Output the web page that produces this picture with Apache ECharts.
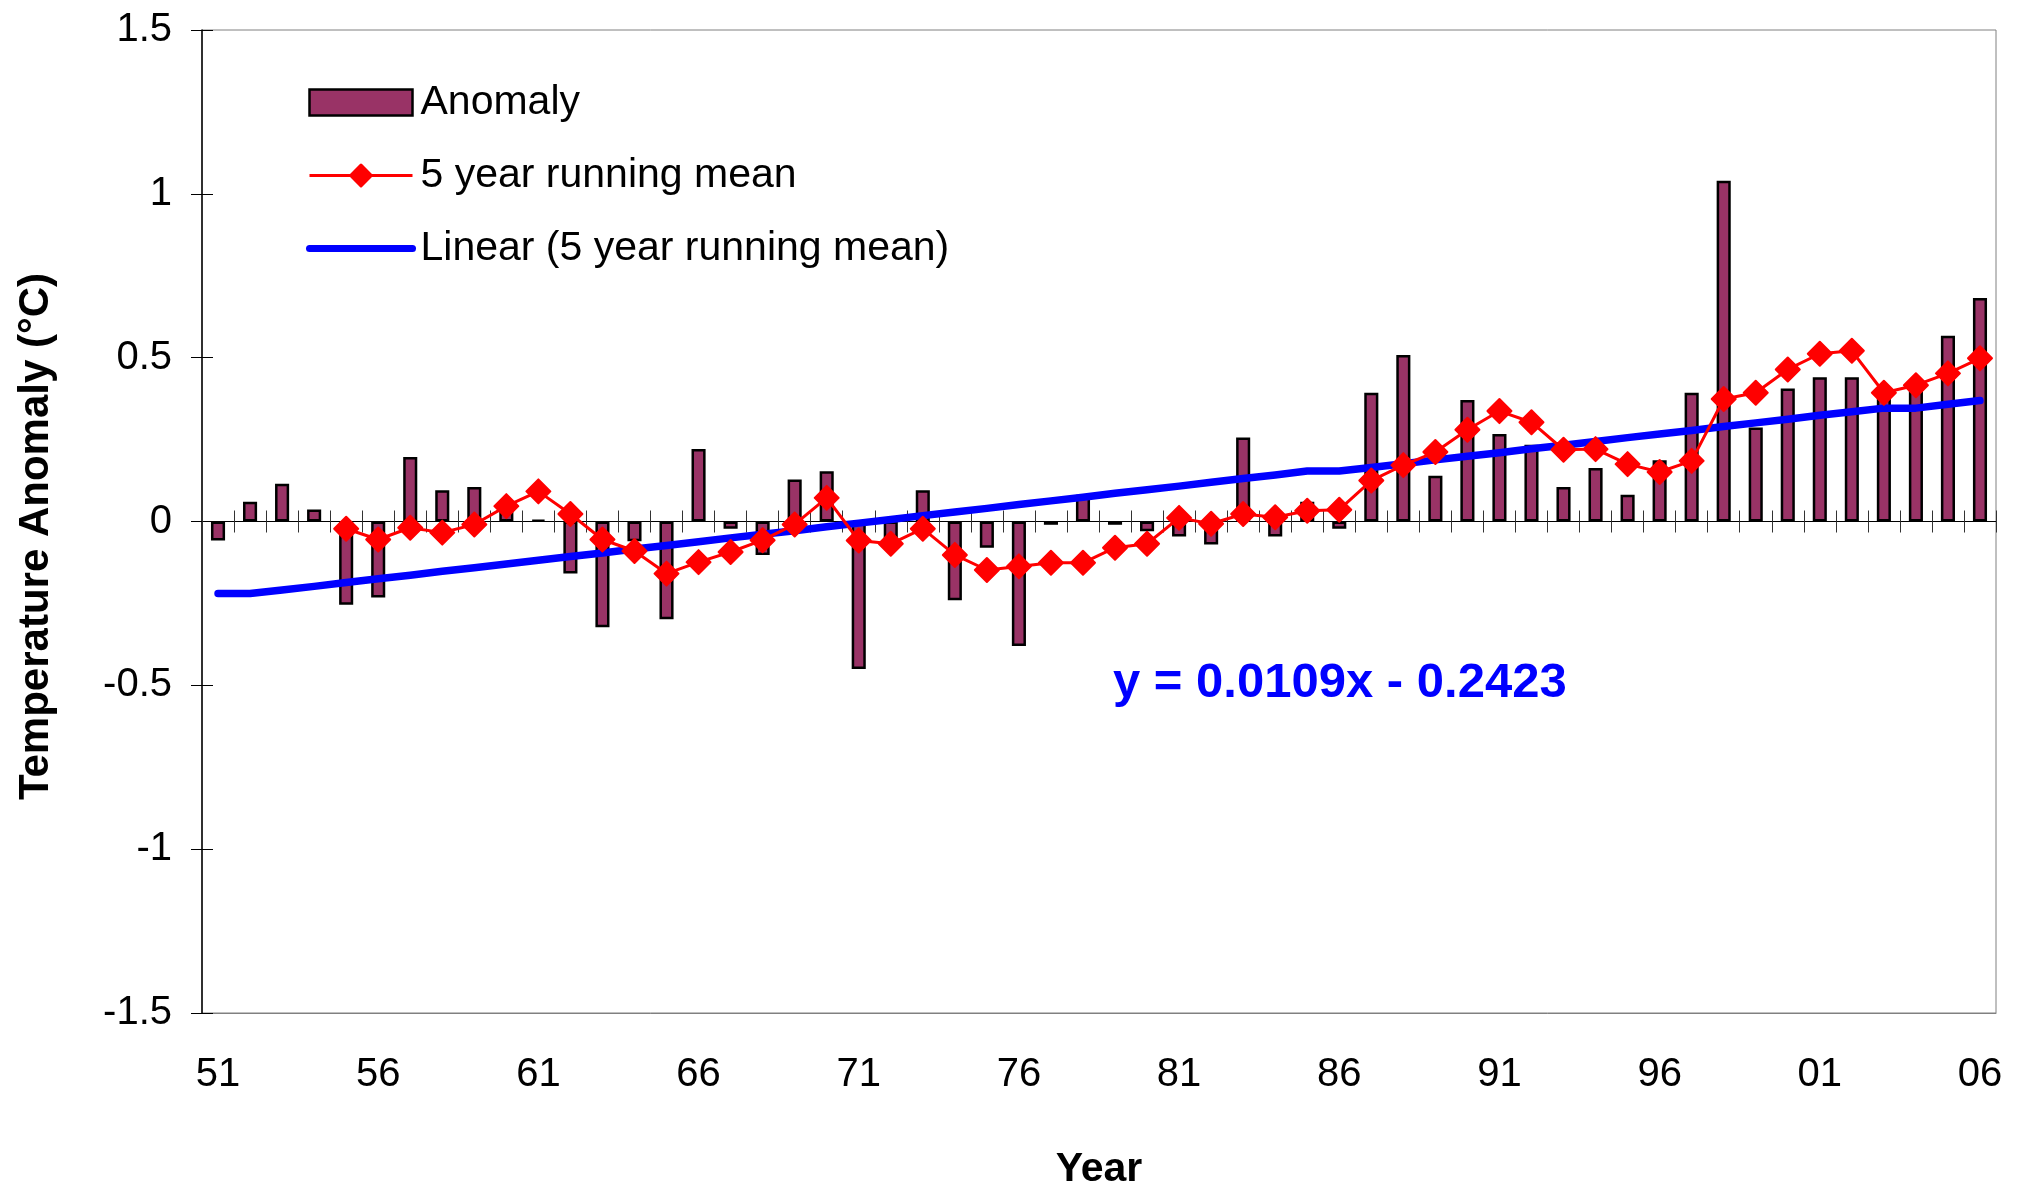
<!DOCTYPE html>
<html>
<head>
<meta charset="utf-8">
<script src="https://cdn.jsdelivr.net/npm/echarts@6/dist/echarts.min.js"></script>
<style>
html,body{margin:0;padding:0;background:#fff;}
#chart{width:2018px;height:1187px;}
</style>
</head>
<body>
<div id="chart"></div>
<script>
// Category labels (years 1951-2006, two-digit)
const years = ['51','52','53','54','55','56','57','58','59','60',
               '61','62','63','64','65','66','67','68','69','70',
               '71','72','73','74','75','76','77','78','79','80',
               '81','82','83','84','85','86','87','88','89','90',
               '91','92','93','94','95','96','97','98','99','00',
               '01','02','03','04','05','06'];

// Annual temperature anomaly (°C)
const anomaly = [-0.058, 0.060, 0.115, 0.037, -0.254, -0.232, 0.197, 0.095, 0.105, 0.060,
                  0.005, -0.159, -0.323, -0.060, -0.298, 0.221, -0.022, -0.102, 0.128, 0.153,
                 -0.450, -0.065, 0.095, -0.240, -0.080, -0.380, -0.010, 0.082, -0.010, -0.030,
                 -0.046, -0.070, 0.256, -0.046, 0.060, -0.022, 0.393, 0.508, 0.140, 0.371,
                  0.267, 0.234, 0.105, 0.163, 0.082, 0.187, 0.393, 1.040, 0.287, 0.406,
                  0.440, 0.440, 0.390, 0.400, 0.567, 0.682];

// 5 year running mean (starts 1955)
const runningMean = [null, null, null, null, -0.022, -0.055, -0.019, -0.034, -0.009, 0.047,
                     0.092, 0.023, -0.055, -0.090, -0.159, -0.124, -0.093, -0.057, -0.009, 0.072,
                    -0.058, -0.068, -0.022, -0.102, -0.148, -0.137, -0.126, -0.126, -0.080, -0.068,
                     0.011, -0.007, 0.023, 0.013, 0.033, 0.036, 0.125, 0.172, 0.212, 0.280,
                     0.337, 0.303, 0.219, 0.221, 0.175, 0.151, 0.185, 0.374, 0.393, 0.464,
                     0.512, 0.521, 0.393, 0.416, 0.452, 0.498];

// Linear trend of the running mean, as drawn
const trend = [-0.220, -0.220, -0.209, -0.198, -0.186, -0.175, -0.164, -0.152, -0.141, -0.130,
               -0.118, -0.107, -0.096, -0.084, -0.073, -0.062, -0.050, -0.039, -0.028, -0.016,
               -0.005, 0.006, 0.018, 0.029, 0.040, 0.052, 0.063, 0.074, 0.086, 0.097,
                0.108, 0.120, 0.131, 0.142, 0.154, 0.154, 0.165, 0.176, 0.188, 0.199,
                0.210, 0.222, 0.233, 0.244, 0.256, 0.267, 0.278, 0.290, 0.301, 0.312,
                0.324, 0.335, 0.346, 0.346, 0.358, 0.369];

// Y axis tick values
const yTicks = [-1.5, -1, -0.5, 0, 0.5, 1, 1.5];

const equationText = 'y = 0.0109x - 0.2423';
const seriesNames = ['Anomaly', '5 year running mean', 'Linear (5 year running mean)'];

const FONT = '"Liberation Sans", Arial, Helvetica, sans-serif';
const chart = echarts.init(document.getElementById('chart'), null, {renderer: 'canvas'});

const yMin = yTicks[0], yMax = yTicks[yTicks.length - 1], yStep = yTicks[1] - yTicks[0];

chart.setOption({
  animation: false,
  backgroundColor: '#ffffff',
  textStyle: {fontFamily: FONT},
  grid: {
    left: 202, top: 30, width: 1794, height: 983,
    containLabel: false, outerBoundsMode: 'none',
    show: true, borderColor: '#808080', borderWidth: 1, backgroundColor: 'transparent'
  },
  legend: {
    orient: 'vertical', left: 301, top: 77, padding: 5,
    itemWidth: 103, itemHeight: 26, itemGap: 32,
    selectedMode: false,
    textStyle: {fontSize: 41, color: '#000', fontFamily: FONT, lineHeight: 40, padding: [0, 0, 0, 3]},
    data: [
      {name: seriesNames[0], icon: 'rect', itemStyle: {color: '#993366', borderColor: '#000', borderWidth: 2.5}},
      {name: seriesNames[1], lineStyle: {color: '#ff0000', width: 3}, itemStyle: {color: '#ff0000', borderColor: '#ff0000', borderWidth: 3}},
      {name: seriesNames[2], lineStyle: {color: '#0000ff', width: 7, cap: 'round'}, itemStyle: {opacity: 0}}
    ]
  },
  xAxis: [
    {
      type: 'category', data: years, position: 'bottom',
      axisLine: {show: true, onZero: false, lineStyle: {color: '#808080', width: 1}},
      axisTick: {show: false},
      axisLabel: {interval: 4, fontSize: 40, color: '#000', margin: 42, fontFamily: FONT},
      splitLine: {show: false},
      name: 'Year', nameLocation: 'middle', nameGap: 136,
      nameTextStyle: {fontSize: 41, fontWeight: 'bold', color: '#000', fontFamily: FONT}
    },
    {
      type: 'category', data: years, position: 'bottom',
      axisLine: {show: true, onZero: true, onZeroAxisIndex: 0, lineStyle: {color: '#000', width: 1}},
      axisTick: {show: true, interval: 0, length: 11, lineStyle: {color: '#333', width: 1}},
      axisLabel: {show: false}, splitLine: {show: false}
    },
    {
      type: 'category', data: years, position: 'bottom',
      axisLine: {show: true, onZero: true, onZeroAxisIndex: 0, lineStyle: {color: '#000', width: 1}},
      axisTick: {show: true, inside: true, interval: 0, length: 11, lineStyle: {color: '#333', width: 1}},
      axisLabel: {show: false}, splitLine: {show: false}
    }
  ],
  yAxis: [
    {
      type: 'value', min: yMin, max: yMax, interval: yStep, position: 'left',
      axisLine: {show: true, lineStyle: {color: '#000', width: 1.5}},
      axisTick: {show: true, length: 11, lineStyle: {color: '#000', width: 1}},
      axisLabel: {fontSize: 40, color: '#000', margin: 30, fontFamily: FONT},
      splitLine: {show: false},
      name: 'Temperature Anomaly (°C)', nameLocation: 'middle', nameGap: 145,
      nameTextStyle: {fontSize: 42, fontWeight: 'bold', color: '#000', fontFamily: FONT, padding: [0, 30, 0, 0]}
    },
    {
      type: 'value', min: yMin, max: yMax, interval: yStep, position: 'left',
      axisLine: {show: false},
      axisTick: {show: true, inside: true, length: 11, lineStyle: {color: '#000', width: 1}},
      axisLabel: {show: false}, splitLine: {show: false}
    }
  ],
  series: [
    {
      name: seriesNames[0], type: 'bar', data: anomaly, xAxisIndex: 0, yAxisIndex: 0,
      barWidth: '44%',
      itemStyle: {color: '#993366', borderColor: '#000', borderWidth: 2.5},
      z: 2
    },
    {
      name: seriesNames[1], type: 'line', data: runningMean, xAxisIndex: 0, yAxisIndex: 0,
      symbol: 'diamond', symbolSize: 24, showAllSymbol: true, connectNulls: false,
      lineStyle: {color: '#ff0000', width: 3},
      itemStyle: {color: '#ff0000', borderColor: '#ff0000', borderWidth: 2, borderJoin: 'round'},
      z: 4
    },
    {
      name: seriesNames[2], type: 'line', data: trend, xAxisIndex: 0, yAxisIndex: 0,
      symbol: 'none',
      lineStyle: {color: '#0000ff', width: 7.5, cap: 'round', join: 'round'},
      itemStyle: {color: '#0000ff'},
      z: 3
    }
  ],
  graphic: [
    {
      type: 'text', x: 1113, y: 683, z: 10,
      style: {
        text: equationText, fill: '#0000ff',
        font: 'bold 49px ' + FONT, verticalAlign: 'middle', align: 'left'
      }
    }
  ]
});
</script>
</body>
</html>
